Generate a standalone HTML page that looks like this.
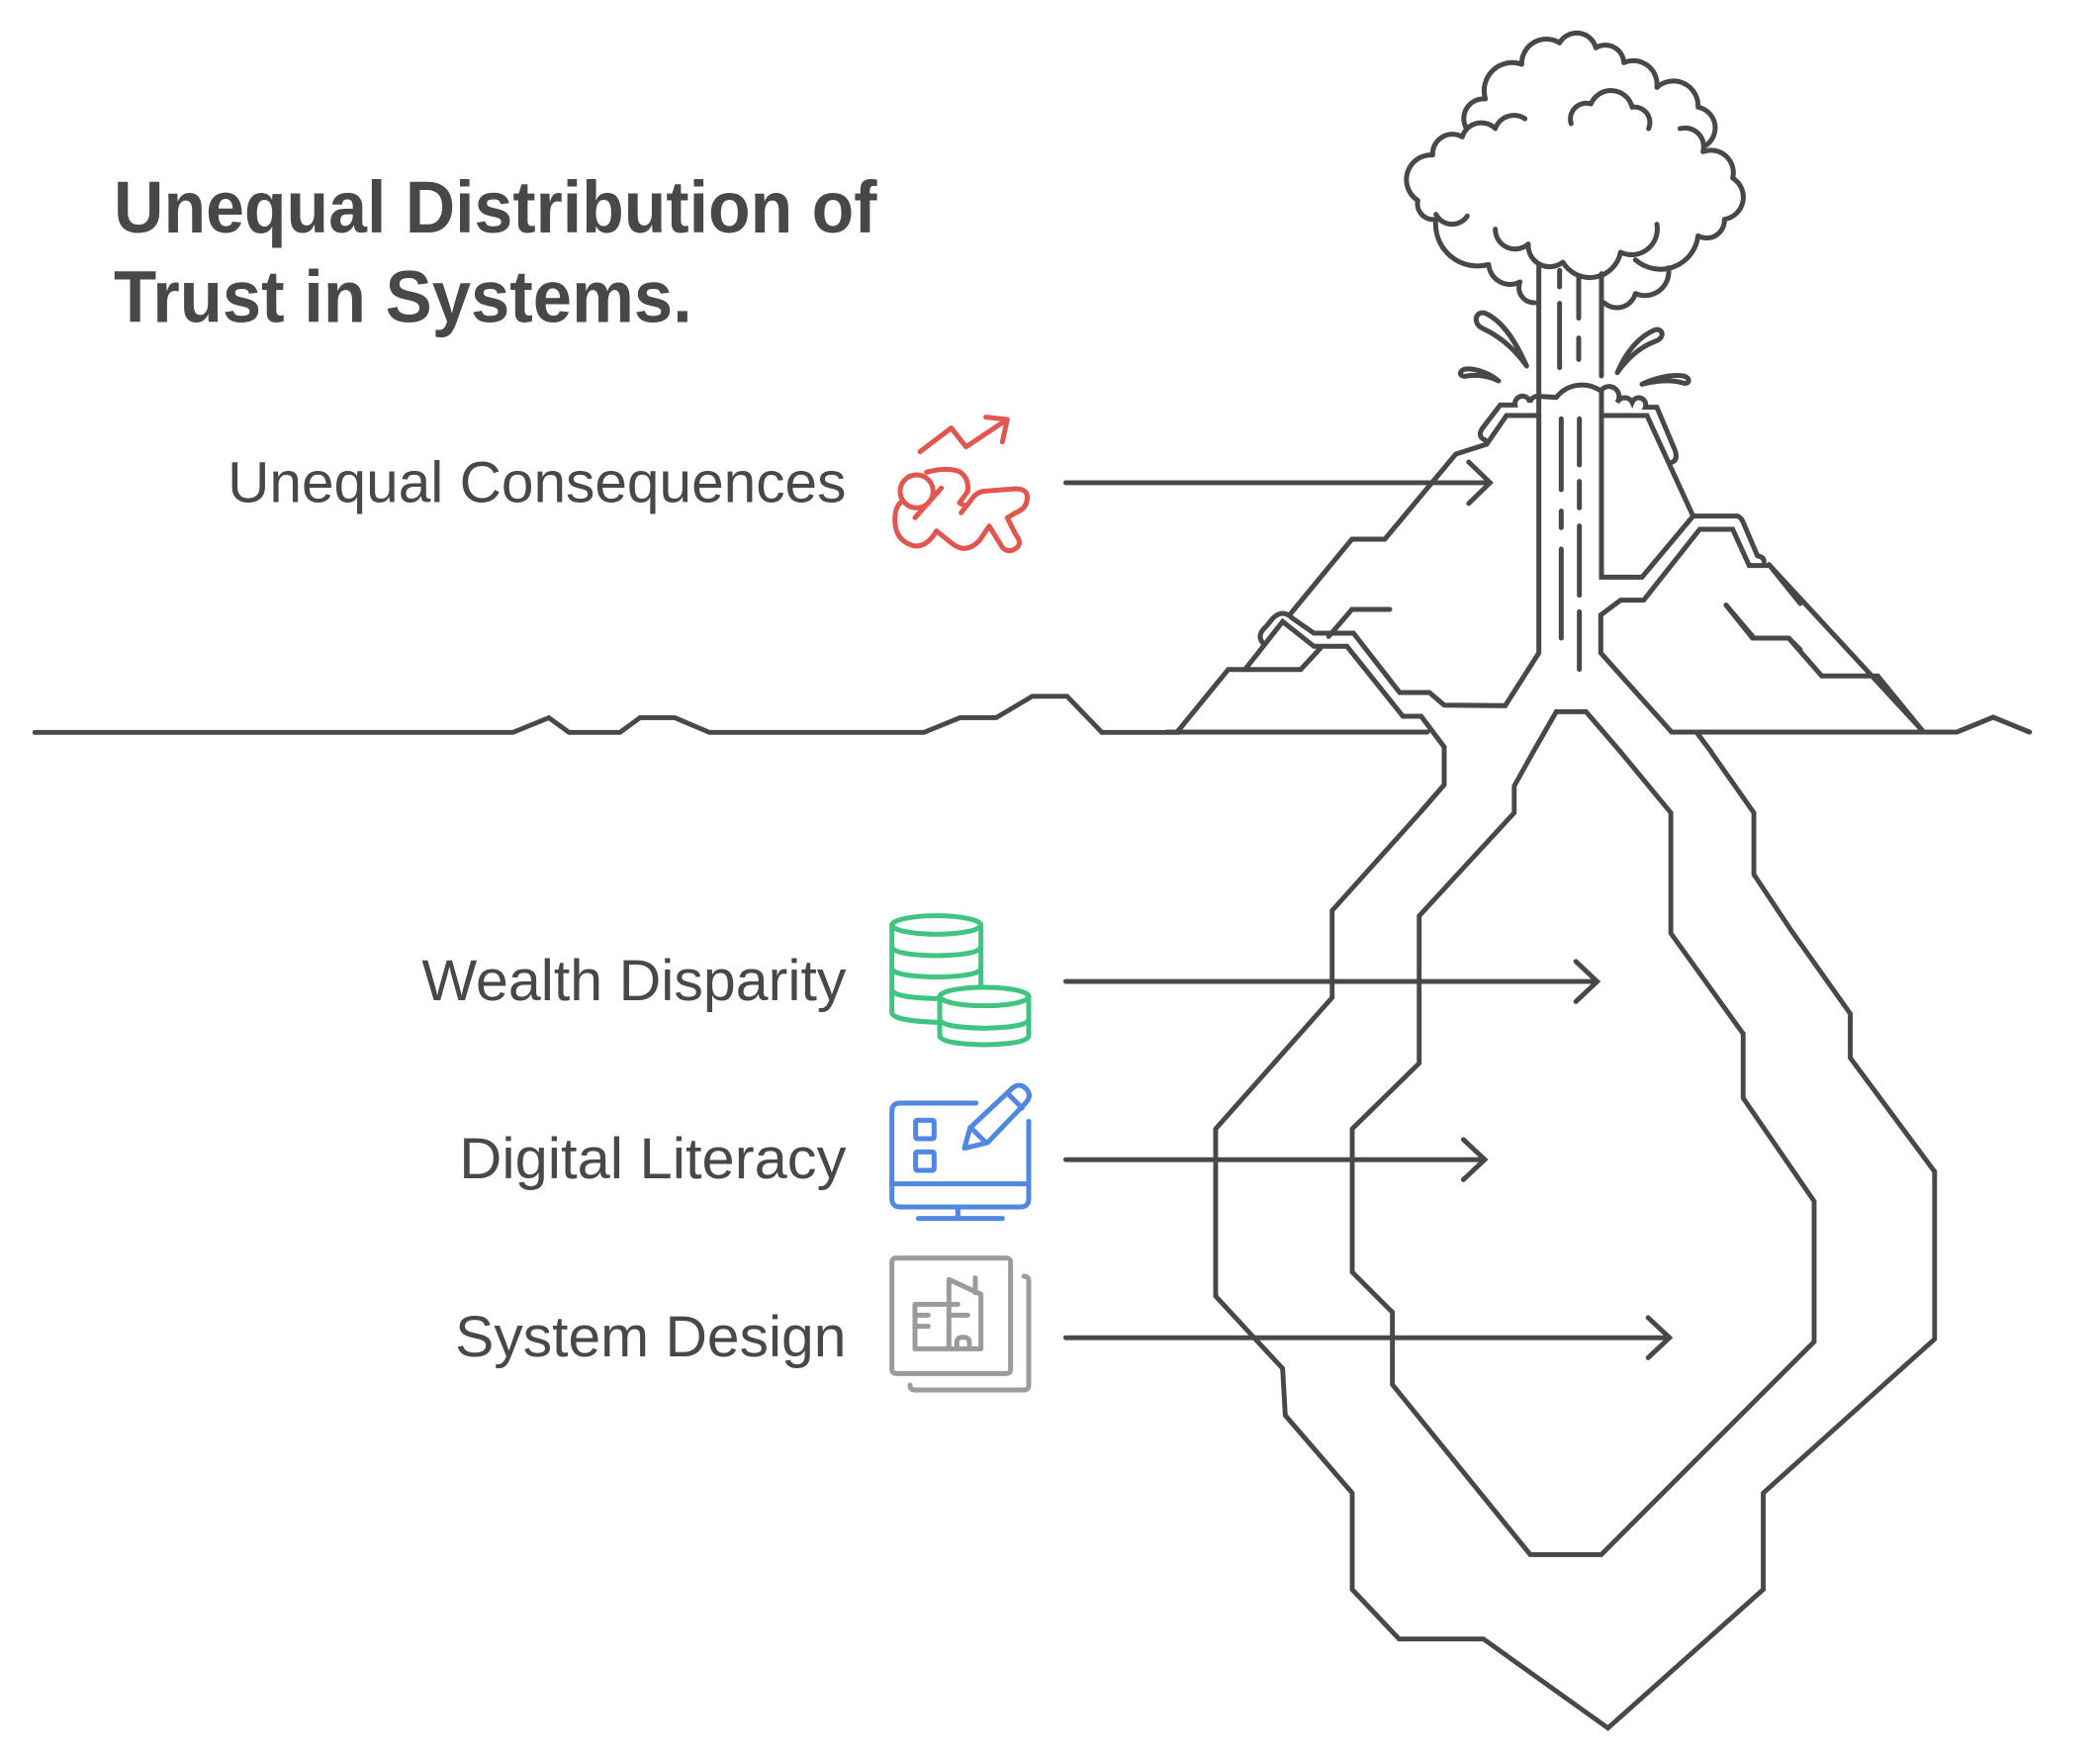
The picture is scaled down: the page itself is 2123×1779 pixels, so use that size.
<!DOCTYPE html>
<html><head><meta charset="utf-8"><style>
html,body{margin:0;padding:0;background:#fff;}
svg{display:block;}
text{font-family:"Liberation Sans",Arial,sans-serif;fill:#484848;}
</style></head><body>
<svg width="2123" height="1779" viewBox="0 0 2123 1779" xmlns="http://www.w3.org/2000/svg">
<rect width="2123" height="1779" fill="#fff"/>

<g transform="scale(1.3535)" fill="none" stroke="#484848" stroke-width="3.6" stroke-linejoin="miter" stroke-linecap="round">
  <text x="85" y="173.5" font-size="55" font-weight="bold" stroke="none" textLength="570" lengthAdjust="spacingAndGlyphs">Unequal Distribution of</text>
  <text x="85" y="240.5" font-size="55" font-weight="bold" stroke="none" textLength="432" lengthAdjust="spacingAndGlyphs">Trust in Systems.</text>

  <text x="632" y="375" font-size="43" text-anchor="end" stroke="none" textLength="462" lengthAdjust="spacingAndGlyphs">Unequal Consequences</text>
  <text x="632" y="747" font-size="43" text-anchor="end" stroke="none" textLength="317" lengthAdjust="spacingAndGlyphs">Wealth Disparity</text>
  <text x="632" y="880" font-size="43" text-anchor="end" stroke="none" textLength="289" lengthAdjust="spacingAndGlyphs">Digital Literacy</text>
  <text x="632" y="1013" font-size="43" text-anchor="end" stroke="none" textLength="292" lengthAdjust="spacingAndGlyphs">System Design</text>

  <path d="M796,360.5 L1113,360.5 M1097,345 L1113,360.5 L1097,376"/>
  <path d="M796,733 L1193,733 M1177,718 L1193,733 L1177,748"/>
  <path d="M796,866 L1109,866 M1093,851 L1109,866 L1093,881"/>
  <path d="M796,999 L1247,999 M1231,984 L1247,999 L1231,1014"/>

  <polyline points="26,547 383,547 410,536 425,547 463,547 478,536 504,536 530,547 690,547 717,536 744,536 771,520 797,520 823,547 880,547"/>

  <polyline points="1078.7,586 1061.5,606 995,680 995,745 908,843 908,968 958,1022 960,1057 1010,1115 1010,1187 1045,1224 1108,1224 1201,1290.5 1317,1187 1317,1115 1445,1000 1445,875 1382,790 1382,757 1338,695 1310,653 1310,607 1278,561.5"/>
  <polyline points="1210.4,561.5 1248,607 1248,697 1302,772 1302,820 1355,897 1355,1002 1196,1161 1143,1161 1040,1034 1040,980 1010,950 1010,843 1060,794 1060,684 1131,607 1131,587 1145.2,561.5"/>
</g>

<g fill="none" stroke="#484848" stroke-width="5" stroke-linejoin="miter" stroke-linecap="round">
  <line x1="1180" y1="740" x2="1443" y2="740"/>
  <polyline points="1190,740 1241.7,676.7 1315,676.7 1335,655"/>
  <polyline points="1343.3,643.3 1366.7,616 1405,616"/>
  <polyline points="1260,675 1296.7,628.3 1328.3,653.3 1361.7,653.3 1418.3,724 1436.7,724 1460,755 1460,793.3 1436.7,820"/>
  <path d="M1276.7,650 Q1270,642 1280,633.3 L1286.7,625 Q1296.7,615 1306.7,625 L1328.3,640 L1368.3,640 L1415,700 L1445,700 L1460,712.7 L1521.7,713.3 L1555.7,660 L1555.7,420"/>
  <polyline points="1305,620 1366.7,545 1400,545 1471.7,459 1503,449 1523,420 1555.7,420"/>
</g>

<g transform="translate(1400,380) scale(0.33333)" fill="none" stroke="#484848" stroke-width="15" stroke-linejoin="miter" stroke-linecap="round">
  <path d="M305,195 Q280,185 295,160 L350,88 L395,88 A22 22 0 0 1 440,80 A25 25 0 0 1 470,62 L520,65 A100 100 0 0 1 655,45 A30 30 0 0 1 705,80 A25 25 0 0 1 750,80 A20 20 0 0 1 790,95 L825,95 L880,225 Q890,255 870,262"/>
  <path d="M657,120 L795,120 L935,425 L1070,425 Q1080,430 1085,440 L1130,545 Q1150,550 1150,562"/>
  <polyline points="467,120 467,65"/>
  <polyline points="657,45 657,610 780,610 935,425"/>
  <polyline points="785,680 955,465 1055,465 1105,575 1160,575"/>
  <polyline points="655,840 655,725 715,680 785,680"/>
  <polyline points="655,840 870,1080 1260,1080"/>
  <polyline points="1035,695 1120,795 1225,795 1260,830"/>
  <polyline points="450,1140 520,1018 610,1018 715,1140"/>
  <line x1="945" y1="1080" x2="990" y2="1140"/>
  <path d="M535,130 L535,345 M535,410 L535,460 M535,525 L535,795 M590,130 L590,270 M590,320 L590,400 M590,455 L590,665 M590,715 L590,890"/>
</g>

<g fill="none" stroke="#484848" stroke-width="5" stroke-linejoin="miter" stroke-linecap="round">
  <polyline points="1820,610 1788.3,570.7"/>
  <polyline points="1788.3,570.7 1943.3,738.3"/>
  <polyline points="1745,611.7 1771.7,645 1808.3,645 1841.7,683.3 1898.3,683.3 1943.3,738.3"/>
  <polyline points="1820,740 1978.3,740 2015,725 2051.7,740"/>
</g>

<g transform="translate(1420,20) scale(0.33333)" fill="none" stroke="#484848" stroke-width="15" stroke-linecap="round" stroke-linejoin="round">
  <path d="M395,858 A46 46 0 0 1 350,795 A65 65 0 0 1 255,742 A127 127 0 0 1 95,605 A48 48 0 0 1 40,548 A75 75 0 0 1 85,410 A60 60 0 0 1 175,355 A60 60 0 0 1 275,330 A60 60 0 0 1 365,300"/>
  <path d="M185,325 A60 60 0 0 1 245,240 A85 85 0 0 1 355,135 A75 75 0 0 1 470,70 A60 60 0 0 1 580,85 A56 56 0 0 1 665,130 A72 72 0 0 1 765,205 A75 75 0 0 1 890,265 A64 64 0 0 1 915,380"/>
  <path d="M835,330 A57 57 0 0 1 905,400 A68 68 0 0 1 995,480 A68 68 0 0 1 970,605 A54 54 0 0 1 890,655 A115 115 0 0 1 700,728"/>
  <path d="M800,752 A72 72 0 0 1 700,830 A58 58 0 0 1 605,858"/>
  <path d="M275,635 A60 60 0 0 0 375,680 A65 65 0 0 0 480,735 A95 95 0 0 0 655,705 A78 78 0 0 0 765,620"/>
  <path d="M505,315 A48 48 0 0 1 565,255 A66 66 0 0 1 690,265 A47 47 0 0 1 740,330"/>
  <path d="M190,595 A55 55 0 0 1 95,590"/>
  <line x1="407" y1="745" x2="407" y2="1140"/>
  <line x1="597" y1="770" x2="597" y2="1080"/>
  <path d="M470,760 L470,810 M470,860 L470,1055 M528,785 L528,905 M528,965 L528,1030"/>
  <path d="M370,1050 C330,960 290,910 245,890 C215,880 205,920 235,935 C290,960 335,1000 370,1050 Z"/>
  <path d="M285,1095 C250,1065 200,1055 180,1060 C160,1070 170,1085 190,1080 C220,1075 255,1080 285,1095"/>
  <path d="M645,1070 C670,1010 710,960 760,940 C785,935 790,965 760,975 C720,990 680,1020 645,1070"/>
  <path d="M720,1105 C760,1085 810,1075 845,1080 C870,1085 865,1110 840,1100 C800,1090 760,1095 720,1105"/>
</g>

<g transform="translate(880,400) scale(0.33333)" fill="none" stroke="#E5554F" stroke-width="15" stroke-linecap="round" stroke-linejoin="round">
  <polyline points="150,170 245,98 290,155 410,75"/>
  <polyline points="350,65 415,72 400,140"/>
  <circle cx="140" cy="290" r="50"/>
  <line x1="215" y1="280" x2="135" y2="370"/>
  <path d="M95,320 Q70,340 75,390 Q80,440 130,455 Q170,462 200,410 L250,450 Q290,480 330,440 L360,395 L400,460 Q420,480 445,460 Q460,445 440,420 L415,370 L440,355 Q480,340 475,300 Q470,283 440,282 L340,290 Q320,295 310,310 L275,355"/>
  <path d="M170,232 Q230,215 270,230 Q300,250 295,290 L270,325 L290,335"/>
</g>

<g transform="translate(880,920) scale(0.33333)" fill="none" stroke-width="15" stroke-linecap="round" stroke-linejoin="round">
  <g stroke="#40C580">
    <ellipse cx="200" cy="45" rx="135" ry="28"/>
    <path d="M65,45 L65,310 Q65,335 200,340 L210,340"/>
    <path d="M335,45 L335,235"/>
    <path d="M65,110 Q65,135 200,138 Q335,135 335,110"/>
    <path d="M65,175 Q65,200 200,203 Q335,200 335,175"/>
    <path d="M65,240 Q65,265 200,268 L210,268"/>
    <ellipse cx="345" cy="262" rx="135" ry="28" fill="#fff"/>
    <path d="M210,262 L210,380 Q210,405 345,408 Q480,405 480,380 L480,262"/>
    <path d="M210,330 Q210,355 345,358 Q480,355 480,330"/>
  </g>
  <g stroke="#4F87E2">
    <path d="M320,585 L90,585 Q65,585 65,610 L65,875 Q65,900 90,900 L455,900 Q480,900 480,875 L480,640"/>
    <line x1="65" y1="830" x2="480" y2="830"/>
    <line x1="265" y1="900" x2="265" y2="935"/>
    <line x1="145" y1="935" x2="400" y2="935"/>
    <rect x="137" y="637" width="56" height="56" rx="5"/>
    <rect x="137" y="733" width="56" height="56" rx="5"/>
    <path d="M285,722 L302,660 L430,540 Q455,520 475,545 Q490,565 470,585 L355,705 Z"/>
    <line x1="305" y1="660" x2="350" y2="705"/>
    <line x1="415" y1="555" x2="460" y2="600"/>
  </g>
  <g stroke="#9B9B9B">
    <rect x="65" y="1055" width="360" height="350" rx="12"/>
    <path d="M120,1440 Q120,1455 135,1455 L465,1455 Q480,1455 480,1440 L480,1125 Q480,1110 465,1110"/>
    <path d="M238,1330 L238,1120 L335,1165 L335,1330 L135,1330 L135,1195 L265,1195"/>
    <line x1="318" y1="1115" x2="318" y2="1160"/>
    <line x1="140" y1="1228" x2="175" y2="1228"/>
    <line x1="140" y1="1262" x2="175" y2="1262"/>
    <line x1="238" y1="1228" x2="295" y2="1228"/>
    <path d="M262,1330 L262,1310 Q262,1295 281,1295 Q300,1295 300,1310 L300,1330"/>
  </g>
</g>
</svg>
</body></html>
